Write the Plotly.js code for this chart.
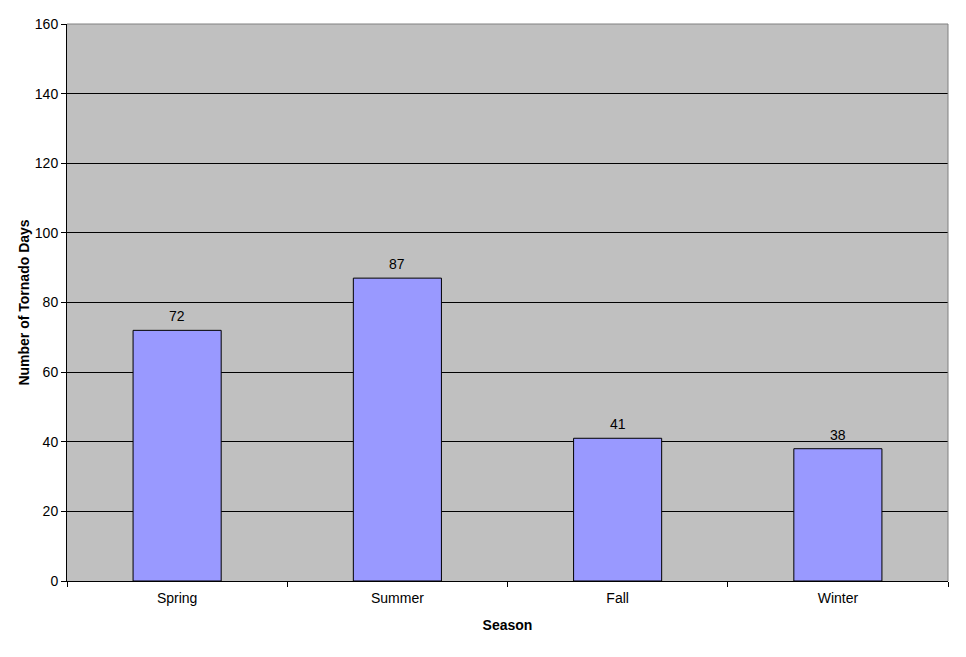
<!DOCTYPE html>
<html>
<head>
<meta charset="utf-8">
<script src="https://cdn.plot.ly/plotly-3.0.1.min.js"></script>
<style>html,body{margin:0;padding:0;background:#fff;}#chart{width:966px;height:657px;}</style>
</head>
<body>
<div id="chart"></div>
<script>
const seasons = ["Spring", "Summer", "Fall", "Winter"];
const tornadoDays = [72, 87, 41, 38];
const yTicks = [0, 20, 40, 60, 80, 100, 120, 140, 160];

const font = "Liberation Sans, Arial, sans-serif";
const fs = 14;

const trace = {
  type: "bar",
  x: seasons,
  y: tornadoDays,
  marker: { color: "#9999ff", line: { color: "#000000", width: 1 } },
  hoverinfo: "x+y"
};

const annotations = seasons.map((s, i) => ({
  x: s, y: tornadoDays[i], xref: "x", yref: "y",
  text: String(tornadoDays[i]), showarrow: false,
  yanchor: "bottom", yshift: 4,
  font: { family: font, size: fs, color: "#000" }
}));

const layout = {
  width: 966, height: 657,
  margin: { l: 67, r: 18, t: 24, b: 76 },
  paper_bgcolor: "#ffffff",
  plot_bgcolor: "#c0c0c0",
  bargap: 0.6,
  showlegend: false,
  font: { family: font, size: fs, color: "#000" },
  xaxis: {
    type: "category",
    tickson: "boundaries",
    ticks: "outside", ticklen: 5, tickcolor: "#000", tickwidth: 1,
    ticklabelstandoff: 4,
    showline: true, linecolor: "#000", linewidth: 1,
    showgrid: false,
    tickfont: { family: font, size: fs, color: "#000" },
    title: { text: "<b>Season</b>", font: { family: font, size: fs, color: "#000" }, standoff: 15 },
    mirror: false
  },
  yaxis: {
    range: [0, 160],
    tickvals: yTicks,
    ticktext: yTicks.map(String),
    ticks: "outside", ticklen: 5, tickcolor: "#000", tickwidth: 1,
    showline: true, linecolor: "#000", linewidth: 1,
    showgrid: true, gridcolor: "#000", gridwidth: 1,
    zeroline: false,
    tickfont: { family: font, size: fs, color: "#000" },
    title: { text: "<b>Number of Tornado Days</b>", font: { family: font, size: fs, color: "#000" }, standoff: 1 }
  },
  shapes: [
    { type: "line", xref: "paper", yref: "paper", x0: 0, x1: 1, y0: 1, y1: 1, line: { color: "#808080", width: 1 } },
    { type: "line", xref: "paper", yref: "paper", x0: 1, x1: 1, y0: 0, y1: 1, line: { color: "#808080", width: 1 } }
  ],
  annotations: annotations
};

Plotly.newPlot("chart", [trace], layout, { displayModeBar: false, staticPlot: true });
</script>
</body>
</html>
